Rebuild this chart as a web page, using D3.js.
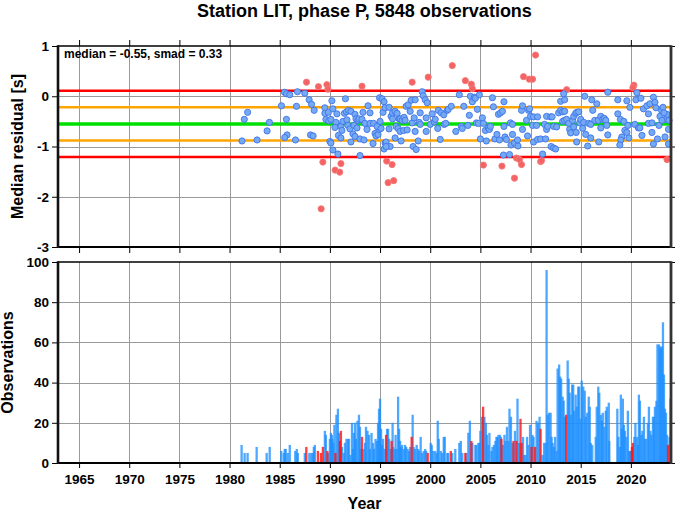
<!DOCTYPE html>
<html><head><meta charset="utf-8">
<script src="https://cdn.jsdelivr.net/npm/d3@7"></script>
<style>
body{margin:0;background:#fff}
svg{display:block}
text{font-family:"Liberation Sans",Arial,Helvetica,sans-serif;font-weight:bold;fill:#000}
</style></head><body>
<svg id="c" width="677" height="511"></svg>
<script>
// ---------------- data ----------------
const title = "Station LIT, phase P, 5848 observations";
const median = -0.55, smad = 0.33;
const yearTicks = [1965,1970,1975,1980,1985,1990,1995,2000,2005,2010,2015,2020];
const residTicks = [1,0,-1,-2,-3];
const countTicks = [0,20,40,60,80,100];

const ptYear = [1981.24,1981.47,1981.8,1982.74,1983.74,1983.97,1985.17,1985.47,1985.67,1986.0,1986.77,1985.67,1985.73,1985.5,1986.67,1986.57,1987.5,1987.93,1988.17,1988.43,1988.07,1988.33,
1987.67,1988.86,1989.7,1989.8,1989.3,1989.13,1990.52,1990.98,1991.1,1993.2,
1989.5,1989.5,1989.85,1989.6,1990.2,1990.3,1990.0,1990.1,1990.3,1990.8,1989.9,1990.1,1990.6,1990.5,1990.7,1991.1,1991.2,1990.85,1991.1,1991.3,1991.55,1991.45,1991.65,1991.85,1992.1,1991.7,1991.8,1992.0,1992.1,1992.3,1992.4,1992.5,1992.5,1992.6,1992.8,1992.9,1993.2,1992.7,1993.0,1993.0,1993.4,1993.3,1993.5,1993.8,1993.7,1994.0,1994.0,1994.35,1994.5,1994.6,1994.3,1994.8,1994.9,1994.7,1995.0,1995.1,1994.95,1995.2,1995.3,1995.4,1995.4,1995.5,
1995.8,1996.36,1995.66,1996.2,1998.2,1999.8,2002.2,2003.5,2004.1,2004.2,2005.3,2007.15,2008.4,2008.6,2008.9,2009.1,2009.3,2009.87,
1995.5,1995.9,1995.9,1995.6,1996.0,1995.6,1996.1,1996.25,1996.25,1996.5,1996.7,1996.6,1996.8,1996.5,1996.9,1997.0,1997.2,1997.0,1997.1,1997.4,1997.35,1997.5,1997.6,1997.7,1997.8,1998.0,1998.1,1998.5,1998.2,1998.4,1998.5,1998.3,1998.6,1998.8,1998.9,1999.0,1999.0,1999.2,1999.3,1999.5,1999.7,1999.6,1999.6,2000.0,2000.2,2000.4,2000.5,2000.75,2000.8,2001.0,2001.1,2001.35,2001.4,2001.55,2001.7,2001.8,2002.1,2002.55,2002.9,2003.1,2003.2,2003.35,2003.75,2003.9,2004.0,2004.2,2004.4,2004.5,2004.9,2004.7,2004.6,2004.8,2005.0,2005.2,2005.3,2005.5,2005.6,2005.8,2005.9,2006.0,2006.2,2006.3,2006.45,2006.65,2006.8,2007.0,2007.2,2006.9,2007.35,2007.35,2007.45,2007.6,2007.3,2007.9,2008.0,2008.2,2008.2,2008.05,2008.4,2008.75,2008.7,2009.1,2009.2,2009.2,2009.7,2009.6,2009.8,2009.9,
2010.5,2010.2,2011.0,2011.1,2013.6,2020.3,2020.2,2023.6,
2010.0,2010.3,2010.7,2010.2,2010.6,2010.3,2010.7,2011.0,2011.5,2011.2,2011.4,2011.6,2011.7,2011.6,2012.0,2012.15,2012.05,2012.3,2012.5,2012.3,2012.6,2012.8,2013.0,2013.2,2013.4,2013.0,2013.4,2013.3,2013.2,2013.4,2013.6,2013.8,2013.9,2014.0,2014.2,2014.3,2014.5,2014.6,2014.8,2014.3,2014.55,2014.6,2014.9,2015.0,2015.2,2015.3,2015.4,2015.5,2015.7,2015.8,2016.0,2016.1,2016.2,2016.0,2016.4,2016.6,2016.75,2016.8,2017.0,2017.0,2017.2,2017.35,2017.5,2017.6,2017.7,2017.7,2018.7,2018.7,2018.95,2019.1,2019.0,2018.9,2019.3,2019.4,2019.6,2019.6,2019.8,2019.9,2019.7,2020.4,2020.5,2020.6,2021.0,2020.75,2020.9,2021.1,2021.25,2021.6,2021.75,2021.75,2021.9,2022.1,2022.25,2022.4,2022.5,2022.1,2022.25,2022.65,2022.8,2022.9,2023.05,2023.2,2023.4,2023.5,2023.6,2023.75,2023.75,2023.8,2023.3,2023.1];
const ptRes = [-0.89,-0.46,-0.32,-0.87,-0.69,-0.52,-0.19,0.08,0.05,0.03,0.09,-0.46,-0.77,-0.82,-0.2,-0.87,0.06,-0.07,-0.16,-0.28,-0.77,-0.79,
0.28,0.19,0.23,0.14,-1.31,-2.24,-1.47,-1.51,-1.34,0.2,
-0.23,-0.34,-0.32,-0.46,-0.09,-0.25,-0.9,-0.93,-1.07,-1.15,-0.49,-0.46,-0.52,-0.62,-0.35,-0.6,-0.68,-0.78,-0.83,-0.5,-0.05,-0.34,-0.31,-0.28,-0.3,-0.47,-0.58,-0.65,-0.91,-0.75,-0.58,-0.8,-0.36,-0.45,-0.48,-0.45,-0.46,-0.63,-1.18,-0.85,-0.87,-0.32,-0.54,-0.19,-0.66,-0.33,-0.54,-0.54,-0.74,-0.79,-0.94,-0.76,-0.66,-0.6,-0.5,-0.64,-0.03,-0.05,-0.32,-1.05,-0.11,-0.93,
-1.72,-1.68,-1.29,-1.36,0.28,0.38,0.61,0.31,0.24,0.15,-1.37,-1.39,-1.63,-1.23,-1.26,-1.36,0.39,0.34,
-0.23,-0.22,-0.65,-0.91,-1.0,-1.0,-0.4,-0.45,-0.33,-0.3,-0.34,-0.6,-0.64,-0.83,-0.45,-0.45,-0.48,-0.7,-0.89,-0.42,-0.68,-0.48,-0.2,-0.67,-0.17,-0.3,-0.08,-0.07,-0.53,-0.43,-0.7,-1.0,-1.06,-0.89,-0.52,-0.56,-0.33,0.09,0.01,-0.07,-0.13,-0.7,-0.43,-0.56,-0.35,-0.51,-0.46,-0.64,-0.28,-0.86,-0.33,-0.37,-0.56,-0.54,-0.28,-0.26,-0.2,-0.7,0.03,-0.6,-0.64,-0.2,-0.58,-0.38,0.0,-0.11,-0.02,-0.04,0.03,-0.26,-0.53,-0.54,-0.85,-0.43,-0.54,-0.68,-0.89,-0.63,-0.66,-0.6,-0.03,-0.21,-0.85,-0.76,-0.36,-0.33,-0.3,-0.87,-0.11,-0.6,-0.81,-0.86,-1.17,-1.16,-0.53,-0.56,-0.76,-0.97,-0.93,-0.99,-0.87,-0.28,-0.19,-0.66,-0.79,-0.48,-0.28,-0.25,
0.82,0.34,-1.3,-1.28,0.13,0.22,0.17,-1.26,
-0.4,-0.41,-0.41,-0.58,-0.58,-0.91,-0.86,-0.85,-0.85,-1.15,-0.56,-0.66,-0.6,-0.4,-0.41,-0.41,-1.0,-1.03,-1.05,-0.6,-0.61,-0.33,-0.28,-0.31,-0.3,-0.1,-0.07,0.05,-0.5,-0.48,-0.46,-0.54,-0.66,-0.73,-0.48,-0.4,-0.34,-0.32,-0.31,-0.61,-0.72,-0.91,-0.53,-0.46,-0.64,-0.52,0.0,-0.76,-0.99,-0.54,-0.56,-0.07,-0.28,-0.83,-0.48,-0.15,-0.48,-0.91,-0.4,-0.63,-0.46,-0.44,-0.48,-0.58,0.08,-0.77,-0.07,-0.35,-0.46,-0.81,-0.87,-0.97,-0.5,-0.68,-0.09,-0.72,-0.83,-0.22,-0.58,-0.56,-0.07,0.07,-0.04,-0.63,-0.63,-0.78,-0.25,-0.19,-0.35,-0.54,-0.15,-0.53,-0.02,-0.12,-0.23,-0.72,-0.95,-0.85,-0.58,-0.4,-0.28,-0.22,-0.81,-0.46,-0.36,-0.66,-0.95,-0.48,-0.33,-0.48];

const barYear = [1981.2,1981.5,1981.8,1982.7,1983.7,1984.0,1985.15,1985.4,1985.5,1985.6,1985.8,1986.0,1986.55,1986.7,1986.8,1987.5,1987.65,1987.95,1988.15,1988.3,1988.4,1988.5,1988.8,1989.1,1989.3,1989.5,1989.6,1989.75,1989.85,1990.0,1990.1,1990.2,1990.25,1990.35,1990.45,1990.55,1990.65,1990.8,1990.9,1991.0,1991.1,1991.2,1991.4,1991.5,1991.65,1991.8,1991.9,1992.05,1992.2,1992.3,1992.4,1992.5,1992.6,1992.75,1992.9,1993.0,1993.1,1993.2,1993.35,1993.5,1993.6,1993.75,1993.9,1994.0,1994.15,1994.3,1994.4,1994.55,1994.7,1994.8,1994.9,1995.0,1995.1,1995.2,1995.3,1995.45,1995.6,1995.7,1995.8,1995.9,1996.05,1996.15,1996.25,1996.3,1996.45,1996.55,1996.65,1996.8,1996.9,1997.0,1997.1,1997.2,1997.35,1997.5,1997.6,1997.75,1997.9,1998.0,1998.15,1998.25,1998.35,1998.5,1998.65,1998.8,1998.9,1999.05,1999.2,1999.35,1999.5,1999.6,1999.75,2000.05,2000.15,2000.3,2000.5,2000.65,2000.75,2000.85,2001.05,2001.2,2001.35,2001.45,2001.7,2001.8,2002.05,2002.2,2002.5,2002.9,2003.05,2003.2,2003.5,2003.6,2003.8,2003.95,2004.1,2004.2,2004.5,2004.6,2004.8,2004.9,2005.0,2005.15,2005.27,2005.4,2005.55,2005.65,2005.8,2005.9,2006.1,2006.2,2006.35,2006.5,2006.6,2006.7,2006.8,2006.95,2007.05,2007.1,2007.25,2007.4,2007.5,2007.65,2007.8,2007.9,2008.05,2008.2,2008.3,2008.45,2008.6,2008.7,2008.85,2009.0,2009.1,2009.25,2009.35,2009.5,2009.65,2009.8,2009.95,2010.1,2010.2,2010.3,2010.45,2010.6,2010.75,2010.9,2011.0,2011.2,2011.35,2011.5,2011.6,2011.7,2011.85,2012.0,2012.1,2012.2,2012.35,2012.45,2012.6,2012.7,2012.85,2012.95,2013.05,2013.2,2013.3,2013.4,2013.55,2013.7,2013.8,2013.9,2014.0,2014.15,2014.25,2014.35,2014.5,2014.6,2014.75,2014.85,2015.0,2015.1,2015.25,2015.4,2015.5,2015.65,2015.8,2015.9,2016.0,2016.15,2016.5,2016.6,2016.75,2016.85,2017.0,2017.1,2017.2,2017.35,2017.5,2017.6,2017.8,2017.85,2018.65,2018.75,2018.9,2019.0,2019.1,2019.2,2019.3,2019.4,2019.55,2019.7,2019.8,2019.9,2020.0,2020.1,2020.2,2020.35,2020.45,2020.6,2020.7,2020.8,2020.9,2021.05,2021.15,2021.3,2021.4,2021.55,2021.7,2021.8,2021.95,2022.05,2022.2,2022.3,2022.4,2022.55,2022.65,2022.8,2022.9,2023.0,2023.1,2023.2,2023.3,2023.4,2023.5,2023.6,2023.7,2023.85,2023.95];
const barCount = [9,5,5,8,5,8,6,5,7,7,5,9,6,7,5,5,8,5,5,5,8,9,6,5,8,16,14,6,5,12,15,14,12,10,19,5,24,27,15,11,16,8,5,10,12,12,12,4,20,7,15,20,12,21,24,18,7,13,7,10,18,16,14,7,15,10,7,12,11,20,27,32,17,9,12,7,14,17,17,12,7,11,20,8,7,14,7,33,17,11,8,9,7,9,8,7,6,8,13,24,8,7,9,7,6,13,5,6,7,6,5,10,9,6,6,5,21,12,6,5,13,13,5,5,6,5,7,10,11,5,5,5,15,21,11,10,9,9,10,10,16,23,28,23,20,14,9,15,6,8,9,11,13,13,14,14,13,12,9,14,11,18,11,27,23,10,11,16,11,32,10,22,10,13,4,4,13,9,19,8,14,13,8,21,20,23,17,4,10,10,96,24,25,25,13,10,8,13,6,47,49,43,42,33,31,23,24,51,42,35,24,39,39,26,34,28,38,38,22,41,38,36,23,25,33,28,10,9,13,28,38,35,24,21,25,18,26,28,30,11,27,13,8,34,17,32,19,16,13,26,6,6,6,8,10,13,20,13,9,34,31,14,16,23,12,12,20,28,16,14,23,23,28,31,59,59,58,57,58,70,44,27,25,14,9,13,32];
// bins whose median residual falls outside median ± 2 smad (drawn red)
const barRedYears = [1987.65,1988.8,1989.1,1989.3,1989.75,1990.55,1991.0,1991.1,1993.2,1995.6,1996.15,1998.15,1999.75,2002.05,2003.5,2004.1,2005.27,2007.1,2008.3,2008.6,2009.0,2009.1,2010.1,2010.45,2011.0,2013.55,2020.1,2020.2,2023.7];

// ---------------- layout ----------------
const svg = d3.select("#c");
const L = 58, R = 671;
const T1 = 46, B1 = 247, T2 = 262, B2 = 463;
const x = d3.scaleLinear().domain([1962.9, 2024.0]).range([L, R]);
const yTop = d3.scaleLinear().domain([-3, 1]).range([B1, T1]);
const yBot = d3.scaleLinear().domain([0, 100]).range([B2, T2]);
const fmt = d => String(d);
const FS = "13.5px";

svg.append("text").attr("x", (L + R) / 2).attr("y", 17).attr("text-anchor", "middle")
  .style("font-size", "18px").text(title);

function grid(yScale, top, bottom, inner) {
  const g = svg.append("g").attr("stroke", "#9a9a9a").attr("stroke-width", 1).attr("shape-rendering", "crispEdges");
  g.selectAll(".v").data(yearTicks).join("line")
    .attr("x1", d => Math.round(x(d)) + 0.5).attr("x2", d => Math.round(x(d)) + 0.5)
    .attr("y1", top).attr("y2", bottom);
  g.selectAll(".h").data(inner).join("line")
    .attr("x1", L).attr("x2", R)
    .attr("y1", d => Math.round(yScale(d)) + 0.5).attr("y2", d => Math.round(yScale(d)) + 0.5);
}
grid(yTop, T1, B1, [0, -1, -2]);
grid(yBot, T2, B2, [20, 40, 60, 80]);

// ---- top panel reference lines ----
const refLines = [
  {v: median + 2 * smad, c: "#ff0000", w: 2.5},
  {v: median - 2 * smad, c: "#ff0000", w: 2.5},
  {v: median + smad, c: "#ffa500", w: 2.5},
  {v: median - smad, c: "#ffa500", w: 2.5},
  {v: median, c: "#00e000", w: 3.5}
];
svg.append("g").selectAll("line").data(refLines).join("line")
  .attr("x1", L).attr("x2", R)
  .attr("y1", d => yTop(d.v)).attr("y2", d => yTop(d.v))
  .attr("stroke", d => d.c).attr("stroke-width", d => d.w);

// ---- points ----
const hi = median + 2 * smad, lo = median - 2 * smad;
const pts = ptYear.map((yr, i) => ({yr, v: ptRes[i], out: ptRes[i] > hi || ptRes[i] < lo}));
svg.append("g").selectAll("circle").data(pts).join("circle")
  .attr("cx", d => x(d.yr)).attr("cy", d => yTop(d.v)).attr("r", 3.1)
  .attr("fill", d => d.out ? "#f46262" : "#74aaf4")
  .attr("stroke", d => d.out ? "#f47a7a" : "#3f74e8")
  .attr("stroke-width", 0.9);

// ---- bars ----
const bars = barYear.map((yr, i) => ({yr, n: barCount[i], red: barRedYears.includes(yr)}));
const bw = 2.3;
svg.append("g").selectAll("rect").data(bars.filter(d => !d.red)).join("rect")
  .attr("x", d => x(d.yr) - bw / 2).attr("width", bw)
  .attr("y", d => yBot(d.n)).attr("height", d => yBot(0) - yBot(d.n))
  .attr("fill", "#1e90ff").attr("fill-opacity", 0.78);
svg.append("g").selectAll("rect").data(bars.filter(d => d.red)).join("rect")
  .attr("x", d => x(d.yr) - bw / 2).attr("width", bw)
  .attr("y", d => yBot(d.n)).attr("height", d => yBot(0) - yBot(d.n))
  .attr("fill", "#ff1010").attr("fill-opacity", 0.8);

// ---- axes ----
function styleAxis(g) {
  g.select(".domain").remove();
  g.selectAll(".tick line").attr("stroke", "#000").attr("stroke-width", 1);
  g.selectAll(".tick text").style("font-size", FS).style("font-weight", "bold")
    .style("font-family", '"Liberation Sans",Arial,sans-serif').attr("fill", "#000");
}
svg.append("g").attr("transform", `translate(${L},0)`)
  .call(d3.axisLeft(yTop).tickValues(residTicks).tickSize(6).tickPadding(3).tickFormat(fmt)).call(styleAxis);
svg.append("g").attr("transform", `translate(${L},0)`)
  .call(d3.axisLeft(yBot).tickValues(countTicks).tickSize(6).tickPadding(3).tickFormat(fmt)).call(styleAxis);
svg.append("g").attr("transform", `translate(${R},0)`)
  .call(d3.axisRight(yTop).tickValues(residTicks).tickSize(4).tickFormat("")).call(styleAxis);
svg.append("g").attr("transform", `translate(${R},0)`)
  .call(d3.axisRight(yBot).tickValues(countTicks).tickSize(4).tickFormat("")).call(styleAxis);
svg.append("g").attr("transform", `translate(0,${T1})`)
  .call(d3.axisTop(x).tickValues(yearTicks).tickSize(6).tickFormat("")).call(styleAxis);
svg.append("g").attr("transform", `translate(0,${B1})`)
  .call(d3.axisBottom(x).tickValues(yearTicks).tickSize(6).tickFormat("")).call(styleAxis);
svg.append("g").attr("transform", `translate(0,${B2})`)
  .call(d3.axisBottom(x).tickValues(yearTicks).tickSize(5).tickPadding(6).tickFormat(fmt)).call(styleAxis);

// ---- frames ----
function frame(top, bottom) {
  const g = svg.append("g");
  g.append("line").attr("x1", L).attr("x2", R).attr("y1", top).attr("y2", top).attr("stroke", "#000").attr("stroke-width", 1.6);
  g.append("line").attr("x1", L).attr("x2", R).attr("y1", bottom).attr("y2", bottom).attr("stroke", "#000").attr("stroke-width", 1.8);
  g.append("line").attr("x1", L).attr("x2", L).attr("y1", top - 0.8).attr("y2", bottom + 0.9).attr("stroke", "#111").attr("stroke-width", 2.6);
  g.append("line").attr("x1", R).attr("x2", R).attr("y1", top - 0.8).attr("y2", bottom + 0.9).attr("stroke", "#333").attr("stroke-width", 2.8);
}
frame(T1, B1);
frame(T2, B2);

// ---- labels ----
svg.append("text").attr("x", 64).attr("y", 58).style("font-size", "12px")
  .text(`median = ${median.toFixed(2)}, smad = ${smad.toFixed(2)}`);
svg.append("text").attr("transform", `translate(23,${(T1 + B1) / 2}) rotate(-90)`)
  .attr("text-anchor", "middle").style("font-size", "16px").text("Median residual [s]");
svg.append("text").attr("transform", `translate(13,${(T2 + B2) / 2}) rotate(-90)`)
  .attr("text-anchor", "middle").style("font-size", "16px").text("Observations");
svg.append("text").attr("x", (L + R) / 2).attr("y", 509).attr("text-anchor", "middle")
  .style("font-size", "16px").text("Year");
</script></body></html>
